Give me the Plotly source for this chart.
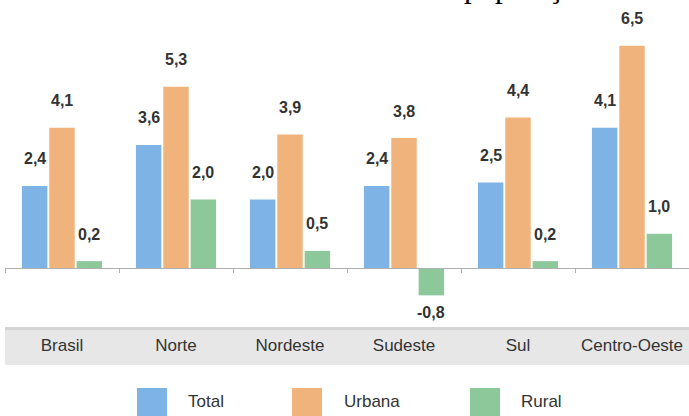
import plotly.graph_objects as go

categories = ["Brasil", "Norte", "Nordeste", "Sudeste", "Sul", "Centro-Oeste"]
series_names = ["Total", "Urbana", "Rural"]
total = [2.4, 3.6, 2.0, 2.4, 2.5, 4.1]
urbana = [4.1, 5.3, 3.9, 3.8, 4.4, 6.5]
rural = [0.2, 2.0, 0.5, -0.8, 0.2, 1.0]
title_fragment = "população"

series_values = [total, urbana, rural]
colors = ["#7eb3e6", "#f0b37c", "#8dc89b"]

W, H = 689, 416
ml, mr, mt, mb = 5, 0, 0, 88
plot_h = H - mt - mb
zero_px = 268
ppu = 34.2
ymax = (zero_px - mt) / ppu
ymin = -(mt + plot_h - zero_px) / ppu

bargap = 0.28
fig = go.Figure()
for name, vals, col in zip(series_names, series_values, colors):
    fig.add_trace(go.Bar(x=categories, y=vals, name=name, marker_color=col,
                         marker_line_width=0, showlegend=False, hoverinfo="skip"))

slot = (1 - bargap) / 3
annotations = []
for k, vals in enumerate(series_values):
    for i, v in enumerate(vals):
        annotations.append(dict(
            x=i + (k - 1) * slot, y=v, xref="x", yref="y",
            text=f"<b>{v:.1f}</b>".replace(".", ","), showarrow=False,
            yanchor="middle", yshift=27 if v >= 0 else -17,
            font=dict(family="Liberation Sans", size=16, color="#333333"),
        ))

pw = W - ml - mr
def px_x(p):
    return (p - ml) / pw
def px_y(p):
    return (mt + plot_h - p) / plot_h

shapes = [
    dict(type="rect", xref="paper", yref="paper", x0=0, x1=1,
         y0=px_y(365), y1=px_y(328), fillcolor="#e7e7e7", line_width=0, layer="below"),
    dict(type="rect", xref="paper", yref="paper", x0=0, x1=1,
         y0=px_y(330), y1=px_y(327), fillcolor="#d4d4d4", line_width=0, layer="below"),
]

legend_swatch_x = [137, 292, 470]
legend_text_x = [186, 342, 519]
for name, col, sx, tx in zip(series_names, colors, legend_swatch_x, legend_text_x):
    shapes.append(dict(type="rect", xref="paper", yref="paper",
                       x0=px_x(sx), x1=px_x(sx + 30), y0=px_y(418), y1=px_y(388),
                       fillcolor=col, line_width=0))
    annotations.append(dict(x=px_x(tx), y=px_y(401), xref="paper", yref="paper",
                            text=name, showarrow=False, xanchor="left", yanchor="middle",
                            font=dict(family="Liberation Sans", size=17, color="#333333")))

annotations.append(dict(x=px_x(462), y=px_y(6), xref="paper", yref="paper",
                        text=title_fragment, showarrow=False, xanchor="left", yanchor="bottom",
                        font=dict(family="Liberation Serif", size=31, color="#000000")))

fig.update_layout(
    width=W, height=H, margin=dict(l=ml, r=mr, t=mt, b=mb, autoexpand=False),
    paper_bgcolor="white", plot_bgcolor="white",
    barmode="group", bargap=bargap, bargroupgap=0.07,
    shapes=shapes, annotations=annotations, showlegend=False,
    xaxis=dict(anchor="free", position=(mt + plot_h - zero_px) / plot_h,
               showline=True, linecolor="#b0b0b0", linewidth=1,
               ticks="outside", tickson="boundaries", ticklen=4, tickcolor="#b0b0b0",
               ticklabelstandoff=62,
               tickfont=dict(family="Liberation Sans", size=17, color="#333333"),
               showgrid=False, fixedrange=True),
    yaxis=dict(range=[ymin, ymax], visible=False, showgrid=False, zeroline=False,
               fixedrange=True),
)

fig.write_html("out.html",
               config={"displayModeBar": False},
               post_script="document.body.style.margin='0';document.body.style.overflow='hidden';")
